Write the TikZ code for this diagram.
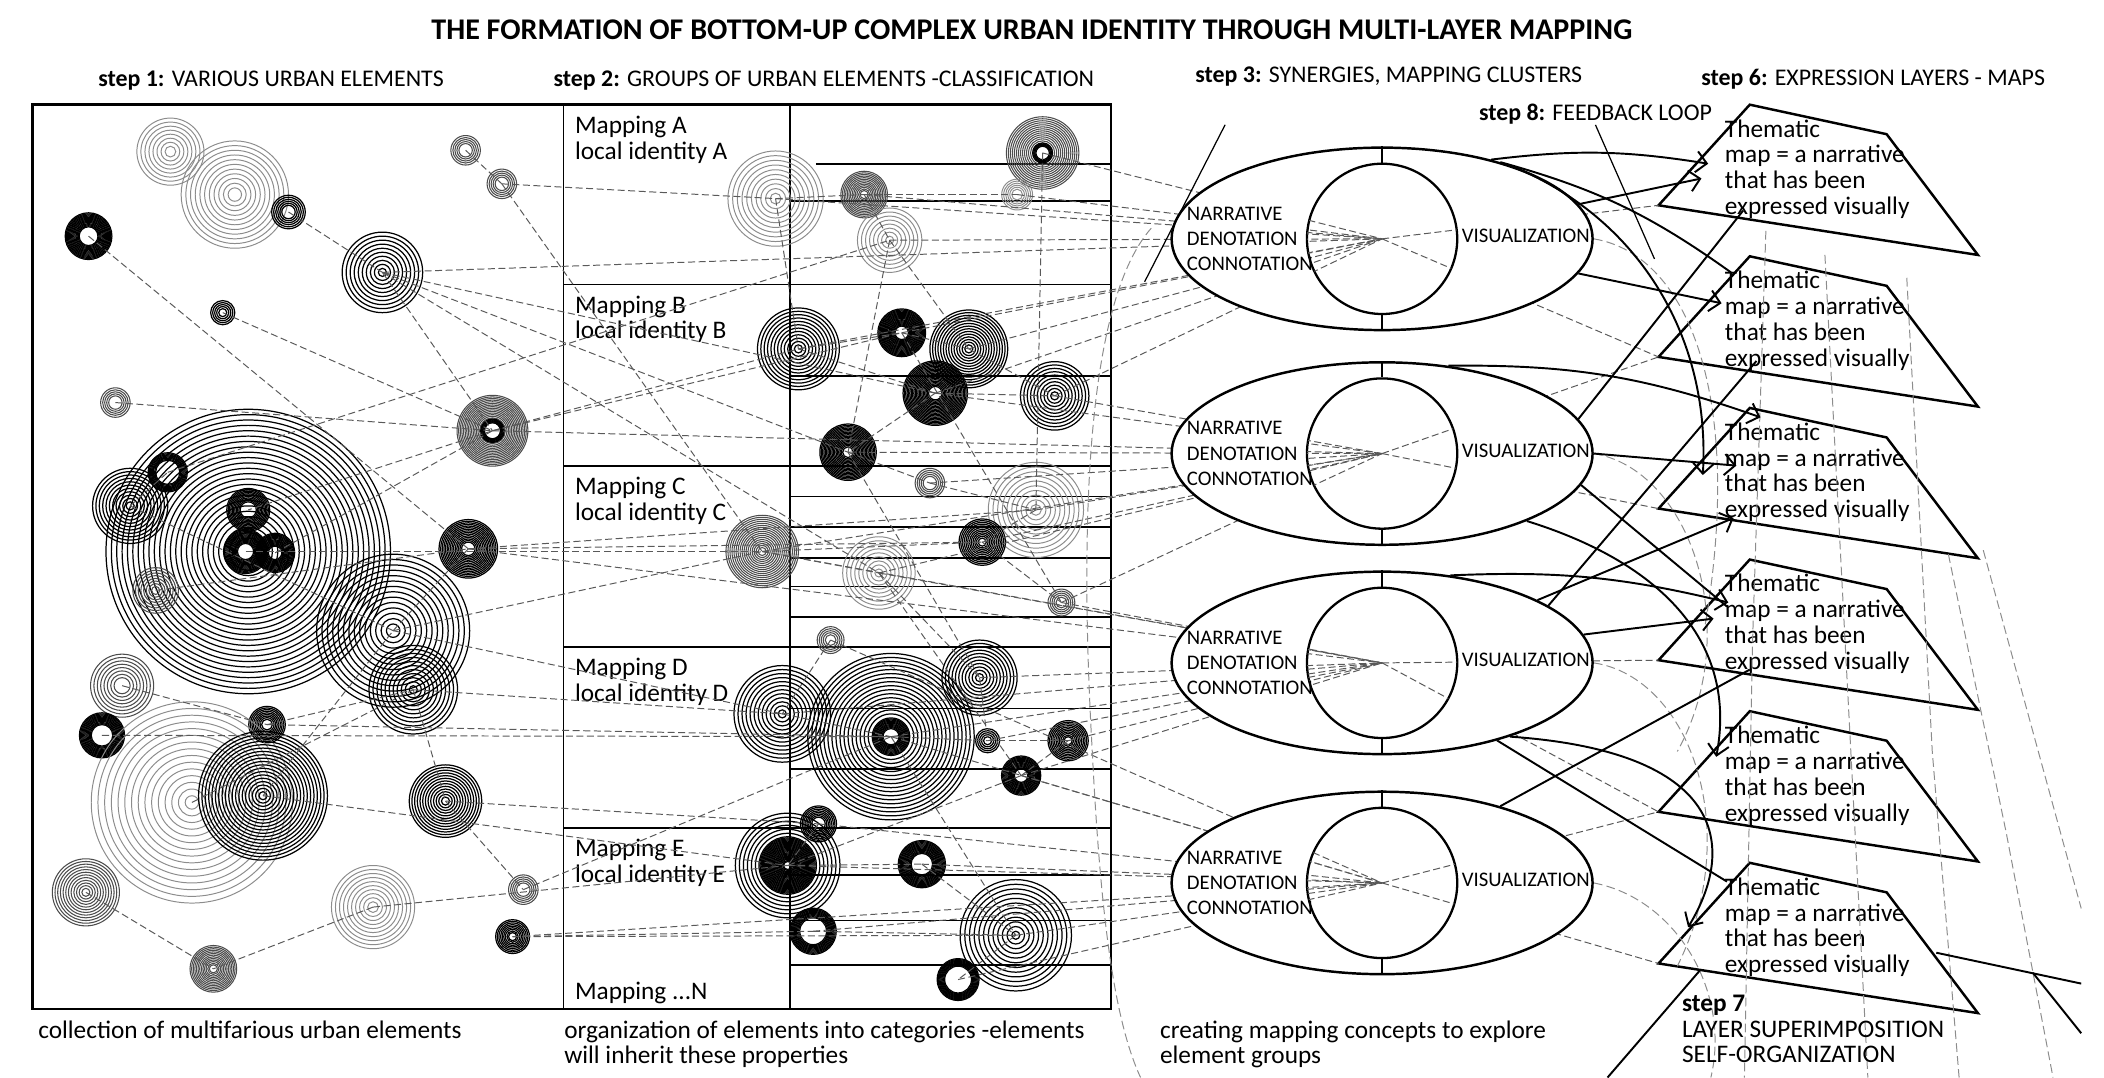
\documentclass[tikz,border=0pt]{standalone}
\usepackage{fontspec}
\setmainfont{Carlito}
\usetikzlibrary{arrows.meta, shapes.geometric, positioning, calc}

% concentric rings: name, centre, first, second, last radius, style
\newcommand\rg[6]{%
  \coordinate (#1) at (#2);
  \foreach \rr in {#3,#4,...,#5} \draw[#6] (#1) circle (\rr);}

% one expression layer (thematic map)
\newcommand\layer[2]{%
  \coordinate (t#1) at (1236,#2);
  \draw[plate] (t#1) -- ++(68,-75) coordinate (t#1a) -- ++(102,22) coordinate (t#1b)
    -- ++(68,90) coordinate (t#1c) -- cycle;
  \node[thema, anchor=west] (m#1) at ([shift={(49,-27)}]t#1)
    {Thematic\\map = a narrative\\that has been\\expressed visually};}

% dashed links into the cluster hubs
\newcommand\hubrays{%
  \path[conn] (q4) edge (h1) (q5) edge (h1) (q2) edge (h1) (q3) edge (h1)
    (q1) edge (h1) (q8) edge (h1) (q10) edge (h1) (q6) edge (h1)
    (q7) edge (h1) (p5) edge (h1) (q9) edge (h1)
    (q13) edge (h2) (q10) edge (h2) (q15) edge (h2) (q14) edge (h2)
    (q16) edge (h2) (q12) edge (h2) (q9) edge (h2) (p10) edge (h2)
    (q11) edge (h2) (q17) edge (h2)
    (q20) edge (h3) (q21) edge (h3) (q19) edge (h3) (q23) edge (h3)
    (q22) edge (h3) (q24) edge (h3) (q17) edge (h3) (q14) edge (h3)
    (q16) edge (h3) (p19) edge (h3)
    (q26) edge (h4) (q27) edge (h4) (q29) edge (h4) (q28) edge (h4)
    (q24) edge (h4) (q30) edge (h4) (q25) edge (h4) (q21) edge (h4)
    (q18) edge (h4) (p29) edge (h4)
    (h1) edge (t1) (h1) edge (t2) (h2) edge (t2) (h2) edge (t3)
    (h3) edge (t4) (h3) edge (t5) (h4) edge (t5) (h4) edge (t6);}

\begin{document}
\begin{tikzpicture}[x=0.1342mm, y=-0.1342mm,
    lr/.style={draw=black!45, line width=0.28pt},
    mr/.style={draw=black!70, line width=0.3pt},
    dr/.style={draw=black, line width=0.35pt},
    frame/.style={draw, line width=0.8pt},
    thin/.style={draw, line width=0.5pt},
    plate/.style={draw, line width=0.7pt},
    conn/.style={draw=black!65, line width=0.28pt, dash pattern=on 2pt off 1pt},
    faint/.style={draw=black!45, line width=0.28pt, dash pattern=on 2.5pt off 1.2pt},
    flow/.style={draw, line width=0.55pt, -{Straight Barb[length=3pt,width=6pt]}},
    plain/.style={draw, line width=0.55pt},
    leader/.style={draw, line width=0.35pt},
    cluster/.style={ellipse, draw, line width=0.7pt, fill=white, minimum width=42.1mm,
      minimum height=18.25mm, inner sep=0pt},
    core/.style={circle, draw, line width=0.65pt, minimum size=15.03mm, inner sep=0pt},
    title/.style={font=\fontsize{8.55}{10}\selectfont\bfseries, inner sep=0pt},
    steplbl/.style={font=\fontsize{6.8}{8}\selectfont, inner sep=0pt},
    maplbl/.style={font=\fontsize{7.2}{7.3}\selectfont, align=left, inner sep=0pt},
    caps/.style={font=\fontsize{5.9}{7.2}\selectfont, align=left, inner sep=0pt},
    thema/.style={font=\fontsize{7.2}{7.35}\selectfont, align=left, inner sep=0pt}]
\useasboundingbox (0,0) rectangle (1568,803);

% headings
\node[title] (title) at (769,22) {THE FORMATION OF BOTTOM-UP COMPLEX URBAN IDENTITY THROUGH MULTI-LAYER MAPPING};
\node[steplbl] (s1) at (202,60) {\textbf{step 1:} VARIOUS URBAN ELEMENTS};
\node[steplbl] (s2) at (614,60) {\textbf{step 2:} GROUPS OF URBAN ELEMENTS -CLASSIFICATION};
\node[steplbl] (s3) at (1035,57) {\textbf{step 3:} SYNERGIES, MAPPING CLUSTERS};
\node[steplbl] (s6) at (1396,59) {\textbf{step 6:} EXPRESSION LAYERS - MAPS};
\node[steplbl] (s8) at (1189,85) {\textbf{step 8:} FEEDBACK LOOP};

% panels of step 1 and step 2
\draw[frame] (24,78) rectangle (828,752);
\draw[thin] (420,78) -- (420,752) (589,78) -- (589,752);
\foreach \y in {212,347,482,617} \draw[thin] (420,\y) -- (828,\y);
\draw[thin] (608,122) -- (828,122);
\foreach \y in {150,280,370,393,416,437,460,528,573,652,686,719}
  \draw[thin] (589,\y) -- (828,\y);

\node[maplbl, anchor=north west] (ma) at (428,86) {Mapping A\\local identity A};
\node[maplbl, anchor=north west] (mb) at (428,220) {Mapping B\\local identity B};
\node[maplbl, anchor=north west] (mc) at (428,355) {Mapping C\\local identity C};
\node[maplbl, anchor=north west] (md) at (428,490) {Mapping D\\local identity D};
\node[maplbl, anchor=north west] (me) at (428,625) {Mapping E\\local identity E};
\node[maplbl, anchor=west] (mn) at (428,740) {Mapping ...N};

% step 1 elements
\rg{p1}{127,113}{4}{7}{26}{lr}
\rg{p2}{175,145}{5}{8.5}{40}{lr}
\rg{p3}{215,158}{5}{6.5}{13}{dr}
\rg{p4}{66,176}{7}{7.8}{18}{dr}
\rg{p5}{285,203}{3}{6}{31}{dr}
\rg{p6}{166,233}{3}{4.5}{10}{dr}
\rg{p7}{347,112}{5}{6.5}{11}{mr}
\rg{p8}{374,137}{5}{6.5}{11}{mr}
\rg{p9}{86,300}{5}{6.5}{11}{mr}
\rg{p10}{367,321}{6}{7.2}{27}{mr}
\rg{p10b}{367,321}{6}{6.7}{9}{dr}
\rg{p11}{185,411}{10}{14}{109}{dr}
\rg{p12}{97,377}{3}{5.5}{30}{dr}
\rg{p13}{125,352}{9}{9.8}{15}{dr}
\rg{p14}{185,380}{6}{7}{16}{dr}
\rg{p15}{183,411}{6}{6.8}{17}{dr}
\rg{p15b}{205,412}{5}{5.8}{15}{dr}
\rg{p16}{116,440}{3}{5}{18}{mr}
\rg{p17}{293,470}{5}{9}{58}{dr}
\rg{p18}{308,514}{3}{6}{35}{dr}
\rg{p19}{349,409}{5}{6.2}{22}{dr}
\rg{p20}{91,511}{6}{8.5}{25}{mr}
\rg{p21}{76,548}{8}{8.8}{17}{dr}
\rg{p22}{199,540}{4}{5.2}{14}{dr}
\rg{p23}{143,598}{5}{10}{77}{lr}
\rg{p24}{196,593}{3}{5.5}{50}{dr}
\rg{p25}{332,597}{3}{5}{28}{dr}
\rg{p26}{64,665}{3}{5}{26}{mr}
\rg{p27}{278,676}{4}{7}{33}{lr}
\rg{p28}{390,663}{5}{6.5}{11}{mr}
\rg{p29}{382,698}{3}{4.2}{13}{dr}
\rg{p30}{159,722}{3}{4.2}{18}{mr}

% step 2 elements
\rg{q1}{578,148}{4}{7.5}{38}{lr}
\rg{q2}{644,145}{3}{4.2}{18}{mr}
\rg{q3}{663,179}{3}{6}{26}{lr}
\rg{q4}{777,114}{6}{7.5}{27}{mr}
\rg{q4b}{777,114}{5}{5.8}{8}{dr}
\rg{q5}{758,145}{4}{5.5}{12}{lr}
\rg{q6}{595,260}{3}{5.5}{31}{dr}
\rg{q7}{672,248}{5}{5.8}{18}{dr}
\rg{q8}{722,260}{3}{5}{29}{dr}
\rg{q9}{697,293}{5}{6}{24}{dr}
\rg{q10}{786,295}{3}{5.5}{26}{dr}
\rg{q11}{632,337}{4}{5}{21}{dr}
\rg{q12}{693,360}{5}{6.5}{11}{mr}
\rg{q13}{772,380}{4}{7.5}{38}{lr}
\rg{q14}{568,411}{3}{4.5}{27}{mr}
\rg{q15}{732,404}{3}{4.3}{18}{dr}
\rg{q16}{655,427}{3}{6}{27}{lr}
\rg{q17}{791,449}{4}{5.5}{11}{mr}
\rg{q18}{619,477}{4}{5.5}{11}{mr}
\rg{q19}{730,505}{3}{5.5}{30}{dr}
\rg{q20}{583,532}{3}{6}{36}{dr}
\rg{q21}{664,549}{14}{17}{62}{dr}
\rg{q21b}{664,549}{6}{6.8}{14}{dr}
\rg{q22}{736,552}{3}{4.5}{10}{dr}
\rg{q23}{796,552}{3}{4.2}{15}{dr}
\rg{q24}{761,578}{5}{5.8}{15}{dr}
\rg{q25}{610,614}{5}{6.2}{14}{dr}
\rg{q26}{587,645}{3}{3.8}{22}{dr}
\rg{q26b}{587,645}{24}{27}{39}{dr}
\rg{q27}{687,644}{8}{8.8}{18}{dr}
\rg{q28}{606,694}{10}{10.8}{18}{dr}
\rg{q29}{757,697}{3}{6.5}{44}{dr}
\rg{q30}{714,730}{10}{10.7}{16}{dr}

% step 6 layers
\layer{1}{153}
\layer{2}{266}
\layer{3}{379}
\layer{4}{492}
\layer{5}{605}
\layer{6}{718}

% links between elements
\path[conn] (p3) edge (p5) (p4) edge (p19) (p6) edge (p10) (p9) edge (p10)
  (p7) edge (p8) (p8) edge (q1) (p8) edge (q14) (p5) edge (p10)
  (p5) edge (q9) (p5) edge (q11) (p5) edge (q16) (p10) edge (p14)
  (p10) edge (p15b) (p10) edge (q6) (p10) edge (q7) (p12) edge (p17)
  (p13) edge (q3) (p16) edge (p19) (p15) edge (q14) (p17) edge (q20)
  (p17) edge (q14) (p17) edge (p19) (p18) edge (q20) (p18) edge (p25)
  (p19) edge (q15) (p19) edge (q13) (p20) edge (p22) (p21) edge (q21)
  (p22) edge (q21) (p22) edge (p18) (p24) edge (q26) (p24) edge (p17)
  (p25) edge (q25) (p25) edge (p28) (p26) edge (p30) (p27) edge (q26)
  (p27) edge (p30) (p28) edge (q21) (p29) edge (q29) (p29) edge (q28)
  (p23) edge (p18) (p12) edge (p13);
\path[conn] (q1) edge (q2) (q2) edge (q5) (q2) edge (q3) (q3) edge (q8)
  (q3) edge (q11) (q1) edge (q6) (q6) edge (q7) (q6) edge (q9)
  (q7) edge (q8) (q8) edge (q10) (q9) edge (q10) (q9) edge (q11)
  (q11) edge (q12) (q12) edge (q13) (q13) edge (q15) (q14) edge (q15)
  (q14) edge (q16) (q15) edge (q17) (q16) edge (q19) (q18) edge (q20)
  (q19) edge (q22) (q20) edge (q21) (q21) edge (q22) (q22) edge (q23)
  (q23) edge (q24) (q24) edge (q26) (q25) edge (q26) (q26) edge (q27)
  (q27) edge (q29) (q28) edge (q29) (q29) edge (q30) (q4) edge (q13)
  (q7) edge (q17) (q11) edge (q19) (q16) edge (q24) (q21) edge (q29);

% step 3 clusters
\coordinate (h1) at (1030,178);
\coordinate (h2) at (1030,338);
\coordinate (h3) at (1030,494);
\coordinate (h4) at (1030,658);
\hubrays
\foreach \i/\y in {1/178,2/338,3/494,4/658}{
  \node[cluster] (e\i) at (1030,\y) {};
  \node[core] (c\i) at (1030,\y) {};
  \draw[thin] (e\i.north) -- (c\i.north) (c\i.south) -- (e\i.south);
  \begin{scope}
    \clip (1030,\y) circle (56);
    \hubrays
  \end{scope}
  \node[caps, anchor=west] (n\i) at (884,\y) {NARRATIVE\\DENOTATION\\CONNOTATION};
  \node[caps, anchor=west] (v\i) at (1089,\y-2) {VISUALIZATION};
}

% faint construction arcs and layer links
\draw[faint] (858,170) .. controls (805,230) and (806,420) .. (814,560)
  .. controls (820,680) and (830,760) .. (850,803);
\draw[faint] (e1.east) .. controls (1260,190) and (1300,300) .. (1270,470);
\draw[faint] (e2.east) .. controls (1260,350) and (1300,470) .. (1250,560);
\draw[faint] (e3.east) .. controls (1260,505) and (1300,620) .. (1250,720);
\draw[faint] (e4.east) .. controls (1250,670) and (1290,740) .. (1275,803);
\draw[faint] (1316,172) -- (1306,480) -- (1300,803);
\draw[faint] (1360,190) -- (1372,420) -- (1392,803);
\draw[faint] (1421,207) -- (1440,560) -- (1460,803);
\draw[faint] (1452,413) -- (1495,620) -- (1530,803);
\draw[faint] (1478,410) -- (1551,677);

% flows from clusters to layers
\coordinate (a1) at (1273,122);  \coordinate (a2) at (1268,133);
\coordinate (a3) at (1290,203);  \coordinate (a4) at (1283,226);
\coordinate (a5) at (1269,354);  \coordinate (a6) at (1312,311);
\coordinate (a7) at (1294,347);  \coordinate (a8) at (1299,157);
\coordinate (a9) at (1287,452);  \coordinate (a10) at (1309,269);
\coordinate (a11) at (1288,449); \coordinate (a12) at (1277,461);
\coordinate (a13) at (1292,386); \coordinate (a14) at (1279,564);
\coordinate (a15) at (1258,691); \coordinate (a16) at (1287,657);
\coordinate (a17) at (1304,499); \coordinate (a18) at (1267,723);
\coordinate (b18) at (1198,803);
\coordinate (a19) at (1551,733); \coordinate (b19) at (1443,710);
\coordinate (a20) at (1551,770); \coordinate (b20) at (1515,725);

\draw[flow] (e1.36) to[bend left=8] (a1);
\draw[flow] (e1.10) -- (a2);
\draw[plain] (e1.33) to[bend left=10] (a3);
\draw[flow] (e1.-10) -- (a4);
\draw[flow] (e1.31) .. controls (1220,160) and (1275,250) .. (a5);
\draw[flow] (e2.53) to[bend left=10] (a6);
\draw[flow] (e2.east) -- (a7);
\draw[plain] (e2.10) -- (a8);
\draw[plain] (e2.-9) -- (a9);
\draw[plain] (e3.19) -- (a10);
\draw[flow] (e3.52) to[bend left=8] (a11);
\draw[flow] (e3.8) -- (a12);
\draw[flow] (e3.22) -- (a13);
\draw[flow] (e2.-25) .. controls (1240,420) and (1295,480) .. (a14);
\draw[flow] (e3.-30) .. controls (1285,560) and (1295,630) .. (a15);
\draw[plain] (e3.-34) -- (a16);
\draw[plain] (e4.33) -- (a17);
\draw[plain] (b18) -- (a18);
\draw[plain] (b19) -- (a19);
\draw[plain] (b20) -- (a20);

% leader lines
\coordinate (l3a) at (913,93);
\coordinate (l3b) at (853,210);
\coordinate (f8) at (1233,193);
\draw[leader] (l3a) -- (l3b);
\draw[leader] (s8.south) -- (f8);

% captions
\node[maplbl, anchor=north west] (cap1) at (28,760) {collection of multifarious urban elements};
\node[maplbl, anchor=north west] (cap2) at (420,760) {organization of elements into categories -elements\\will inherit these properties};
\node[maplbl, anchor=north west] (cap3) at (864,760) {creating mapping concepts to explore\\element groups};
\node[maplbl, anchor=north west] (s7) at (1253,741) {\textbf{step 7}\\LAYER SUPERIMPOSITION\\SELF-ORGANIZATION};
\end{tikzpicture}
\end{document}
